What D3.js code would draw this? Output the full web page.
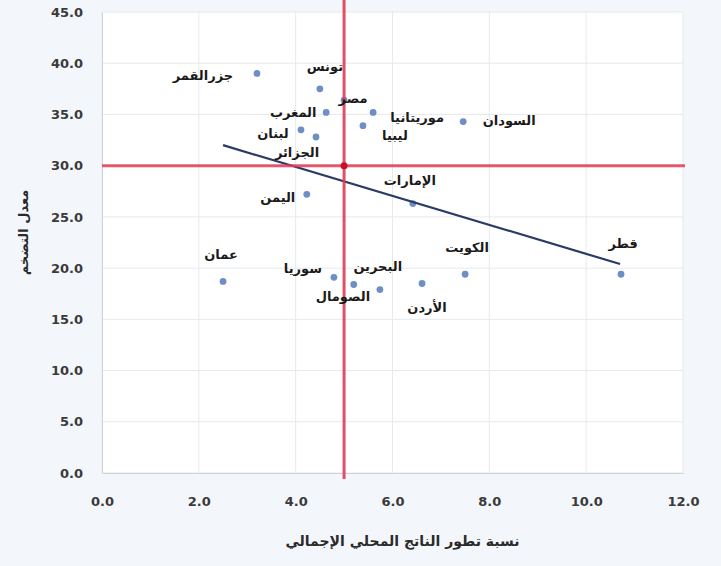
<!DOCTYPE html>
<html>
<head>
<meta charset="utf-8">
<script src="https://cdn.jsdelivr.net/npm/d3@7"></script>
<style>
  body { margin: 0; background: #f3f6fb; }
  text { font-family: "DejaVu Sans", sans-serif; }
</style>
</head>
<body>
<div id="chart"></div>
<script>
// data
const countries = ['جزرالقمر', 'تونس', 'مصر', 'المغرب', 'لبنان', 'الجزائر', 'موريتانيا', 'ليبيا', 'السودان',
  'الإمارات', 'اليمن', 'عمان', 'سوريا', 'البحرين', 'الصومال', 'الأردن', 'الكويت', 'قطر'];
const growth    = [3.2, 4.5, 5.0, 4.63, 4.11, 4.42, 5.6, 5.39, 7.46, 6.42, 4.23, 2.5, 4.79, 5.2, 5.74, 6.61, 7.5, 10.72];
const inflation = [39.0, 37.5, 36.4, 35.2, 33.5, 32.8, 35.2, 33.9, 34.3, 26.3, 27.2, 18.7, 19.1, 18.4, 17.9, 18.5, 19.4, 19.4];

// trend line end points
const trendX = [2.5, 10.7];
const trendY = [32.0, 20.4];

// average lines
const meanGrowth = 5.0;
const meanInflation = 30.0;

const xTicks = [0, 2, 4, 6, 8, 10, 12];
const yTicks = [0, 5, 10, 15, 20, 25, 30, 35, 40, 45];

const xTitle = 'نسبة تطور الناتج المحلي الإجمالي';
const yTitle = 'معدل التضخم';

// label offsets from the dot [dx, dy]
const labelOffsets = {
  'جزرالقمر': [-54, 2], 'تونس': [5, -22], 'مصر': [9, -2], 'المغرب': [-33, 0],
  'لبنان': [-28, 4], 'الجزائر': [-19, 16], 'موريتانيا': [44, 5], 'ليبيا': [32, 10],
  'السودان': [46, -1], 'الإمارات': [-3, -23], 'اليمن': [-29, 3], 'عمان': [-2, -27],
  'سوريا': [-31, -9], 'البحرين': [24, -18], 'الصومال': [-37, 7], 'الأردن': [5, 24],
  'الكويت': [2, -27], 'قطر': [2, -31]
};

const width = 721, height = 566;
const margin = {top: 12, right: 38, bottom: 93, left: 102};

const svg = d3.select('#chart').append('svg')
    .attr('width', width)
    .attr('height', height);

svg.append('rect')
    .attr('width', width).attr('height', height)
    .attr('fill', '#f3f6fb');

const x = d3.scaleLinear().domain([0, 12]).range([margin.left, width - margin.right]);
const y = d3.scaleLinear().domain([0, 45]).range([height - margin.bottom, margin.top]);

// plot area
svg.append('rect')
    .attr('x', x(0)).attr('y', y(45))
    .attr('width', x(12) - x(0)).attr('height', y(0) - y(45))
    .attr('fill', '#ffffff');

// gridlines
svg.append('g')
    .selectAll('line')
    .data(yTicks)
  .join('line')
    .attr('x1', x(0)).attr('x2', x(12))
    .attr('y1', d => y(d)).attr('y2', d => y(d))
    .attr('stroke', '#e6e9ed')
    .attr('stroke-width', 1);

svg.append('g')
    .selectAll('line')
    .data(xTicks)
  .join('line')
    .attr('y1', y(0)).attr('y2', y(45))
    .attr('x1', d => x(d)).attr('x2', d => x(d))
    .attr('stroke', '#e6e9ed')
    .attr('stroke-width', 1);

// axes
const xAxis = svg.append('g')
    .attr('transform', `translate(0,${y(0)})`)
    .call(d3.axisBottom(x).tickValues(xTicks).tickFormat(d3.format('.1f')).tickSize(0).tickPadding(24));
const yAxis = svg.append('g')
    .attr('transform', `translate(${x(0)},0)`)
    .call(d3.axisLeft(y).tickValues(yTicks).tickFormat(d3.format('.1f')).tickSize(0).tickPadding(19));

[xAxis, yAxis].forEach(a => {
  a.select('.domain').attr('stroke', '#cfd3d8');
  a.selectAll('text')
      .attr('fill', '#3a3a3a')
      .attr('font-size', 13)
      .attr('font-weight', 'bold')
      .style('font-family', '"DejaVu Sans", sans-serif');
});

// points
const points = countries.map((c, i) => ({name: c, gx: growth[i], inf: inflation[i]}));

svg.append('g')
    .selectAll('circle')
    .data(points)
  .join('circle')
    .attr('cx', d => x(d.gx))
    .attr('cy', d => y(d.inf))
    .attr('r', 3.4)
    .attr('fill', '#6d8fc4');

// trend line
svg.append('path')
    .datum(trendX.map((v, i) => [v, trendY[i]]))
    .attr('d', d3.line().x(d => x(d[0])).y(d => y(d[1])))
    .attr('stroke', '#2b3a66')
    .attr('stroke-width', 2.2)
    .attr('fill', 'none');

// average lines
svg.append('line')
    .attr('x1', x(0)).attr('x2', x(12) + 2)
    .attr('y1', y(meanInflation)).attr('y2', y(meanInflation))
    .attr('stroke', '#e03c55').attr('stroke-opacity', 0.85)
    .attr('stroke-width', 3);
svg.append('line')
    .attr('x1', x(meanGrowth)).attr('x2', x(meanGrowth))
    .attr('y1', y(45) - 12).attr('y2', y(0) + 6)
    .attr('stroke', '#e03c55').attr('stroke-opacity', 0.9)
    .attr('stroke-width', 3);
svg.append('circle')
    .attr('cx', x(meanGrowth)).attr('cy', y(meanInflation))
    .attr('r', 3.5)
    .attr('fill', '#c8102e');

// labels
svg.append('g')
    .selectAll('text')
    .data(points)
  .join('text')
    .attr('x', d => x(d.gx) + labelOffsets[d.name][0])
    .attr('y', d => y(d.inf) + labelOffsets[d.name][1])
    .attr('text-anchor', 'middle')
    .attr('dominant-baseline', 'central')
    .attr('font-size', 13)
    .attr('font-weight', 'bold')
    .attr('fill', '#1a1a1a')
    .text(d => d.name);

// axis titles
svg.append('text')
    .attr('x', (x(0) + x(12)) / 2 + 10)
    .attr('y', 541)
    .attr('text-anchor', 'middle')
    .attr('dominant-baseline', 'central')
    .attr('font-size', 14)
    .attr('font-weight', 'bold')
    .attr('fill', '#2a2a2a')
    .text(xTitle);

svg.append('text')
    .attr('transform', `translate(23,${(y(0) + y(45)) / 2 - 10}) rotate(-90)`)
    .attr('text-anchor', 'middle')
    .attr('dominant-baseline', 'central')
    .attr('font-size', 13)
    .attr('font-weight', 'bold')
    .attr('fill', '#2a2a2a')
    .text(yTitle);
</script>
</body>
</html>
